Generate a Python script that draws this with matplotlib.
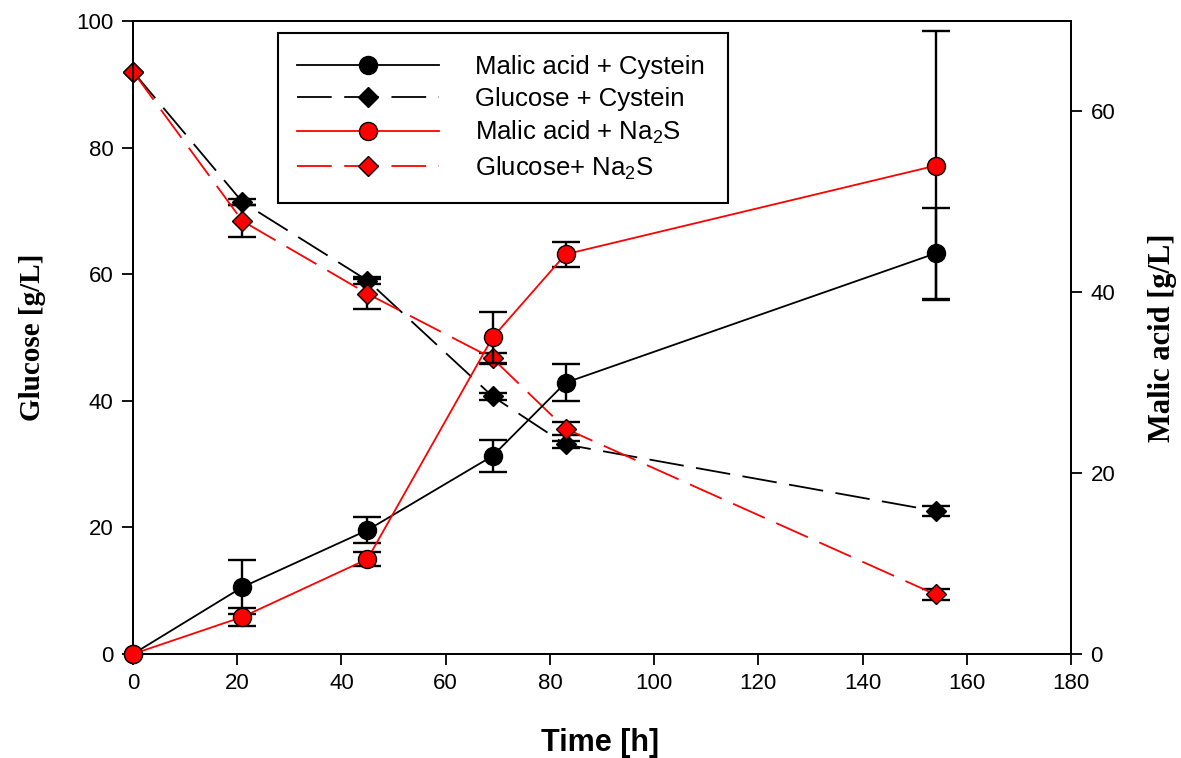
import numpy as np
import matplotlib
matplotlib.use('Agg')
import matplotlib.pyplot as plt
from matplotlib.patches import Rectangle

# sampling times [h]
time = [0, 21, 45, 69, 83, 154]

# malic acid [g/L] (right axis)
malic_cys = [0, 7.4, 13.7, 21.9, 30.0, 44.3]
malic_cys_err = [0, 3.0, 1.4, 1.8, 2.05, 5.0]
malic_na2s = [0, 4.1, 10.5, 35.0, 44.2, 54.0]
malic_na2s_err = [0, 1.0, 0.8, 2.8, 1.4, 14.9]

# glucose [g/L] (left axis)
glu_cys = [92, 71.4, 59.0, 40.7, 33.1, 22.6]
glu_cys_err = [0, 0.5, 0.6, 0.6, 0.6, 0.8]
glu_na2s = [92, 68.4, 56.9, 46.7, 35.6, 9.4]
glu_na2s_err = [0, 2.6, 2.4, 0.9, 1.0, 0.9]

labels = ['Malic acid + Cystein', 'Glucose + Cystein',
          'Malic acid + Na$_\\mathregular{2}$S', 'Glucose+ Na$_\\mathregular{2}$S']

plt.rcParams['font.family'] = 'Liberation Sans'
plt.rcParams['lines.scale_dashes'] = False
plt.rcParams['axes.linewidth'] = 1.3

dash = (0, (25, 9))
eb = dict(fmt='none', ecolor='black', elinewidth=1.7, capsize=10, capthick=1.7)

fig = plt.figure(figsize=(11.81, 7.58), dpi=100)
ax = fig.add_axes([0.1126, 0.1372, 0.7943, 0.8351])
ax2 = ax.twinx()

# no error bar at t = 0
s = slice(1, None)

# glucose on the left axis
ax.errorbar(time[s], glu_cys[s], yerr=glu_cys_err[s], zorder=2, **eb)
ax.errorbar(time[s], glu_na2s[s], yerr=glu_na2s_err[s], zorder=2, **eb)
h2, = ax.plot(time, glu_cys, color='black', ls=dash, lw=1.3, marker='D', ms=10.5,
              mfc='black', mec='black', mew=1.0, zorder=3, clip_on=False)
h4, = ax.plot(time, glu_na2s, color='red', ls=dash, lw=1.3, marker='D', ms=10.5,
              mfc='red', mec='black', mew=1.0, zorder=4, clip_on=False)

# malic acid on the right axis
ax2.errorbar(time[s], malic_cys[s], yerr=malic_cys_err[s], zorder=2, **eb)
ax2.errorbar(time[s], malic_na2s[s], yerr=malic_na2s_err[s], zorder=2, **eb)
h1, = ax2.plot(time, malic_cys, color='black', ls='-', lw=1.3, marker='o', ms=13,
               mfc='black', mec='black', mew=1.0, zorder=3, clip_on=False)
h3, = ax2.plot(time, malic_na2s, color='red', ls='-', lw=1.3, marker='o', ms=13,
               mfc='red', mec='black', mew=1.0, zorder=4, clip_on=False)

ax.set_xlim(0, 180)
ax.set_ylim(0, 100)
ax2.set_ylim(0, 70)
ax.set_xticks(np.arange(0, 181, 20))
ax.set_yticks(np.arange(0, 101, 20))
ax2.set_yticks(np.arange(0, 61, 20))

for a in (ax, ax2):
    a.tick_params(direction='out', length=8, width=1.3, labelsize=16, pad=6)

ax.set_xlabel('Time [h]', fontsize=22, fontweight='bold', va='center')
ax.xaxis.set_label_coords(0.498, -0.1406)
ax.set_ylabel('Glucose [g/L]', fontsize=21, fontweight='bold',
              family='Liberation Serif', va='center')
ax.yaxis.set_label_coords(-0.1066, 0.5)
ax2.set_ylabel('Malic acid [g/L]', fontsize=22, fontweight='bold',
               family='Liberation Serif', va='center', rotation=90)
ax2.yaxis.set_label_coords(1.098, 0.5)

# legend box
ax2.add_patch(Rectangle((0.1546, 0.7125), 0.4797, 0.2685, transform=ax2.transAxes,
                        fill=True, facecolor='white', edgecolor='black', lw=1.5, zorder=5))
leg = ax2.legend([h1, h2, h3, h4], labels, loc='upper left',
                 bbox_to_anchor=(0.1546, 0.976), frameon=False, fontsize=18.5,
                 numpoints=1, handlelength=5.5, handletextpad=1.4,
                 labelspacing=0.3, borderpad=0.75, borderaxespad=0)
leg.set_zorder(6)

plt.savefig('out.png', dpi=100)
